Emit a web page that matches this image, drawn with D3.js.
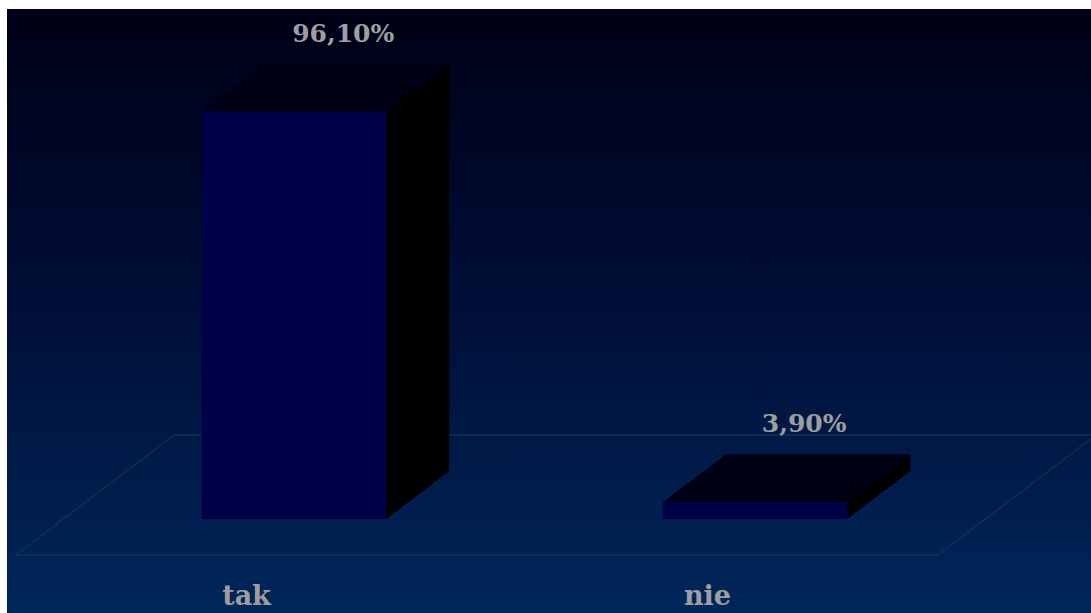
<!DOCTYPE html>
<html>
<head>
<meta charset="utf-8">
<script src="https://cdn.jsdelivr.net/npm/d3@7"></script>
<style>
  html, body { margin: 0; padding: 0; background: #ffffff; }
  svg { display: block; }
</style>
</head>
<body>
<svg id="chart" width="1091" height="613"></svg>
<script>
// Survey answers and their shares (percent)
const categories = ["tak", "nie"];
const values = [96.1, 3.9];
const valueLabels = ["96,10%", "3,90%"];

const W = 1091, H = 613;
const svg = d3.select("#chart");

// Background panel with a dark navy gradient
const defs = svg.append("defs");
const grad = defs.append("linearGradient")
  .attr("id", "bg").attr("x1", 0).attr("y1", 0).attr("x2", 0).attr("y2", 1);
grad.append("stop").attr("offset", "0%").attr("stop-color", "#000016");
grad.append("stop").attr("offset", "45%").attr("stop-color", "#000d35");
grad.append("stop").attr("offset", "100%").attr("stop-color", "#00265a");

svg.append("rect")
  .attr("x", 7).attr("y", 9)
  .attr("width", W - 7).attr("height", H - 9)
  .attr("fill", "url(#bg)");

// 3D floor geometry
const floorFrontY = 555;
const depthDx = 158, depthDy = 120;
const barZ0 = 0.3, barZ1 = 0.7;

const x = d3.scaleBand().domain(categories).range([16, 938]).padding(0);
const h = d3.scaleLinear().domain([0, 100]).range([0, 424]);

// Floor outline
const fx0 = x.range()[0], fx1 = x.range()[1];
svg.append("path")
  .attr("d", d3.line()([
    [fx0, floorFrontY], [fx1, floorFrontY],
    [fx1 + depthDx, floorFrontY - depthDy], [fx0 + depthDx, floorFrontY - depthDy]
  ]) + "Z")
  .attr("fill", "none")
  .attr("stroke", "#16404a")
  .attr("stroke-width", 1);

const barW = x.bandwidth() * 0.4;
const bdx = (barZ1 - barZ0) * depthDx, bdy = (barZ1 - barZ0) * depthDy;

const data = categories.map((c, i) => ({ c, v: values[i], label: valueLabels[i] }));

const bars = svg.append("g").selectAll("g").data(data).join("g");

bars.each(function(d) {
  const g = d3.select(this);
  const cx = x(d.c) + x.bandwidth() / 2 + barZ0 * depthDx;
  const x0 = cx - barW / 2, x1 = cx + barW / 2;
  const yb = floorFrontY - barZ0 * depthDy;
  const yt = yb - h(d.v);

  // right side face
  g.append("path")
    .attr("d", d3.line()([[x1, yb], [x1, yt], [x1 + bdx, yt - bdy], [x1 + bdx, yb - bdy]]) + "Z")
    .attr("fill", "#000000");
  // top face
  g.append("path")
    .attr("d", d3.line()([[x0, yt], [x1, yt], [x1 + bdx, yt - bdy], [x0 + bdx, yt - bdy]]) + "Z")
    .attr("fill", "#000014");
  // front face
  g.append("rect")
    .attr("x", x0).attr("y", yt)
    .attr("width", barW).attr("height", h(d.v))
    .attr("fill", "#000048");

  // value label above the bar
  g.append("text")
    .attr("x", cx + bdx * 0.78)
    .attr("y", yt - bdy - 22)
    .attr("text-anchor", "middle")
    .attr("font-family", "'DejaVu Serif', serif")
    .attr("font-weight", "bold")
    .attr("font-size", 25)
    .attr("fill", "#9e9e9e")
    .text(d.label);
});

// Category labels under the floor front edge
svg.append("g").selectAll("text").data(categories).join("text")
  .attr("x", d => x(d) + x.bandwidth() / 2)
  .attr("y", 605)
  .attr("text-anchor", "middle")
  .attr("font-family", "'DejaVu Serif', serif")
  .attr("font-weight", "bold")
  .attr("font-size", 27)
  .attr("fill", "#9e9e9e")
  .text(d => d);
</script>
</body>
</html>
